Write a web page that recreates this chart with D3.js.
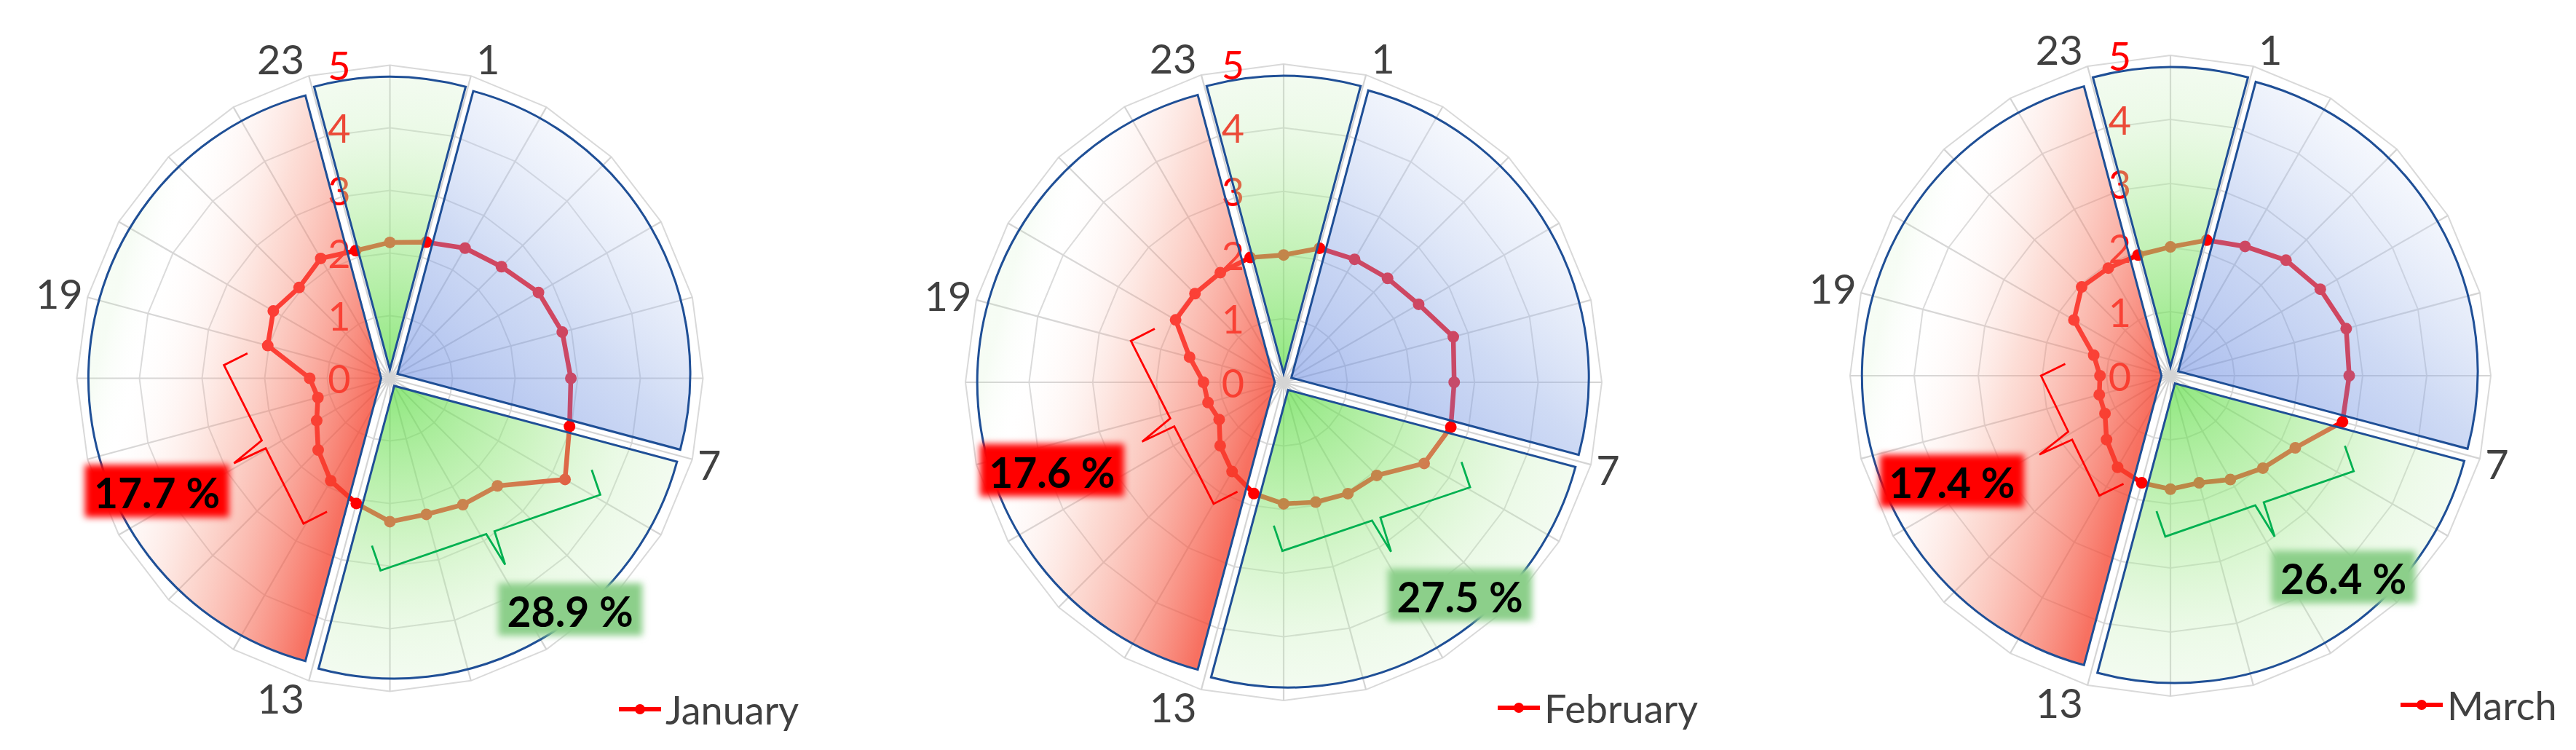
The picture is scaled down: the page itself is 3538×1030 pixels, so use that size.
<!DOCTYPE html>
<html>
<head>
<meta charset="utf-8">
<script src="https://cdn.jsdelivr.net/npm/d3@7"></script>
<style>
  html, body { margin: 0; padding: 0; background: #fff; }
  svg { display: block; font-family: Lato, "Open Sans", sans-serif; }
</style>
</head>
<body>
<svg id="chart" width="3538" height="1030"></svg>
<script>
// ---- data -------------------------------------------------------------
// 24 hourly spokes, spoke 0 at the top, clockwise
const hours = d3.range(24);
const hourLabels = ["", "1", "", "", "", "", "", "7", "", "", "", "", "", "13", "", "", "", "", "", "19", "", "", "", "23"];
const radialTicks = [0, 1, 2, 3, 4, 5];

const months = ["January", "February", "March"];
const janValues = [2.17, 2.25, 2.40, 2.52, 2.74, 2.85, 2.89, 2.97, 3.23, 2.43, 2.33, 2.25, 2.29, 2.07, 1.89, 1.62, 1.35, 1.19, 1.28, 2.02, 2.15, 2.05, 2.21, 2.11];
const febValues = [2.00, 2.18, 2.23, 2.31, 2.45, 2.76, 2.68, 2.72, 2.55, 2.07, 2.02, 1.95, 1.91, 1.81, 1.62, 1.41, 1.17, 1.23, 1.26, 1.53, 1.96, 1.97, 1.99, 2.03];
const marValues = [2.01, 2.19, 2.33, 2.55, 2.70, 2.84, 2.79, 2.78, 2.25, 2.04, 1.87, 1.73, 1.77, 1.73, 1.65, 1.41, 1.18, 1.15, 1.10, 1.24, 1.74, 1.96, 1.94, 1.95];
const monthValues = [janValues, febValues, marValues];

// periods of the day (exploded pie laid over the radar)
const periodStart = [23, 1, 7, 13];
const periodHours = [2, 6, 6, 10];
const periodFill = ["green", "blue", "green", "red"];

const redShares = ["17.7 %", "17.6 %", "17.4 %"];
const greenShares = ["28.9 %", "27.5 %", "26.4 %"];

// ---- layout (annotation anchors are in value units, x right / y down) --
const panels = [
  {cx: 535.5, cy: 519.5, R: 430, legendX: 850, legendY: 974},
  {cx: 1763, cy: 525, R: 437, legendX: 2057, legendY: 972},
  {cx: 2981, cy: 516, R: 440, legendX: 3297, legendY: 968}
];
const redBoxAt = [[-3.72, 1.80], [-3.64, 1.38], [-3.41, 1.64]];
const greenBoxAt = [[2.88, 3.69], [2.77, 3.34], [2.70, 3.14]];
const redBraceAt = [[[-2.65, -0.21], [-1.38, 2.32]], [[-2.40, -0.65], [-1.10, 1.91]], [[-2.02, 0.0], [-1.11, 1.87]]];
const greenBraceAt = [[[-0.15, 3.07], [3.36, 1.86]], [[-0.02, 2.65], [2.93, 1.65]], [[-0.08, 2.51], [2.86, 1.49]]];

const TAU = Math.PI * 2;
const svg = d3.select("#chart");
const defs = svg.append("defs");

defs.append("filter").attr("id", "soft")
  .attr("x", "-20%").attr("y", "-30%").attr("width", "140%").attr("height", "160%")
  .append("feGaussianBlur").attr("stdDeviation", 5);

function addStops(grad, stops) {
  stops.forEach(s => grad.append("stop").attr("offset", s[0]).attr("stop-color", s[1]).attr("stop-opacity", s[2]));
}

function addGradients(k, P) {
  // radial green, used by the night and the day sector
  addStops(defs.append("radialGradient").attr("id", "green" + k)
    .attr("gradientUnits", "userSpaceOnUse").attr("cx", 0).attr("cy", 0).attr("r", P),
    [[0, "rgb(90,220,65)", 0.68], [0.5, "rgb(165,235,145)", 0.55], [0.8, "rgb(190,238,175)", 0.32], [1, "rgb(205,240,195)", 0.25]]);

  addStops(defs.append("linearGradient").attr("id", "blue" + k)
    .attr("gradientUnits", "userSpaceOnUse")
    .attr("x1", 0.05 * P).attr("y1", 0.15 * P).attr("x2", 0.8 * P).attr("y2", -0.7 * P),
    [[0, "rgb(105,138,225)", 0.6], [0.5, "rgb(140,168,230)", 0.42], [1, "rgb(232,238,250)", 0.3]]);

  addStops(defs.append("linearGradient").attr("id", "red" + k)
    .attr("gradientUnits", "userSpaceOnUse")
    .attr("x1", -0.95 * P).attr("y1", -0.12 * P).attr("x2", -0.05 * P).attr("y2", 0.12 * P),
    [[0, "rgb(205,240,195)", 0.18], [0.14, "rgb(255,255,255)", 0.05], [0.5, "rgb(248,160,140)", 0.35], [1, "rgb(245,72,52)", 0.78]]);
}

function bracePath(c1, c2, r) {
  const p1 = [r(c1[0]), r(c1[1])], p2 = [r(c2[0]), r(c2[1])];
  const len = Math.hypot(p2[0] - p1[0], p2[1] - p1[1]);
  const u = [(p2[0] - p1[0]) / len, (p2[1] - p1[1]) / len];
  const mid = [(p1[0] + p2[0]) / 2, (p1[1] + p2[1]) / 2];
  let n = [-u[1], u[0]];
  if (n[0] * -mid[0] + n[1] * -mid[1] < 0) n = [-n[0], -n[1]]; // n points inward
  const hook = r(0.42), tip = r(0.56), gap = r(0.07);
  const pt = (p, a, b) => [p[0] + a * u[0] + b * n[0], p[1] + a * u[1] + b * n[1]];
  const pts = [pt(p1, 0, hook), p1, pt(mid, -gap, 0), pt(mid, gap * 0.8, -tip), pt(mid, gap, 0), p2, pt(p2, 0, hook)];
  return d3.line()(pts);
}

function drawPanel(k) {
  const L = panels[k];
  const values = monthValues[k];
  const R = L.R, P = R * 0.935, boom = R * 0.028;
  const r = d3.scaleLinear().domain([0, 5]).range([0, R]);
  const ang = d3.scaleLinear().domain([0, 24]).range([0, TAU]);
  addGradients(k, P);

  const g = svg.append("g").attr("transform", `translate(${L.cx},${L.cy})`);

  // radar grid
  const ring = v => d3.lineRadial().angle(h => ang(h)).radius(r(v)).curve(d3.curveLinearClosed)(hours);
  g.append("g").selectAll("path").data(radialTicks.slice(1)).join("path")
    .attr("d", ring).attr("fill", "none").attr("stroke", "#d9d9d9").attr("stroke-width", 2);
  g.append("g").selectAll("line").data(hours).join("line")
    .attr("x1", 0).attr("y1", 0)
    .attr("x2", h => r(5) * Math.sin(ang(h))).attr("y2", h => -r(5) * Math.cos(ang(h)))
    .attr("stroke", "#d4d4d4").attr("stroke-width", 2.2);

  // value axis labels
  g.append("g").selectAll("text").data(radialTicks).join("text")
    .attr("x", -54).attr("y", v => -r(v))
    .attr("text-anchor", "end").attr("dominant-baseline", "central")
    .attr("font-size", 54).attr("fill", "#ff0000").text(v => v);

  // data line + markers
  const line = d3.lineRadial().angle((d, i) => ang(i)).radius(d => r(d)).curve(d3.curveLinearClosed);
  g.append("path").datum(values).attr("d", line)
    .attr("fill", "none").attr("stroke", "#ff0000").attr("stroke-width", 6.5).attr("stroke-linejoin", "round");
  g.append("g").selectAll("circle").data(values).join("circle")
    .attr("cx", (d, i) => r(d) * Math.sin(ang(i))).attr("cy", (d, i) => -r(d) * Math.cos(ang(i)))
    .attr("r", 8).attr("fill", "#ff0000");

  // exploded pie of day periods
  const pie = d3.pie().sort(null).value(d => d)
    .startAngle(ang(periodStart[0]) - TAU).endAngle(ang(periodStart[0]));
  const arc = d3.arc().innerRadius(0).outerRadius(P);
  g.append("g").selectAll("path").data(pie(periodHours)).join("path")
    .attr("transform", d => {
      const m = (d.startAngle + d.endAngle) / 2;
      return `translate(${boom * Math.sin(m)},${-boom * Math.cos(m)})`;
    })
    .attr("d", arc)
    .attr("fill", (d, i) => `url(#${periodFill[i]}${k})`)
    .attr("stroke", "#1f4f96").attr("stroke-width", 3).attr("stroke-linejoin", "miter");

  // braces
  g.append("path").attr("d", bracePath(redBraceAt[k][0], redBraceAt[k][1], r))
    .attr("fill", "none").attr("stroke", "#ff0000").attr("stroke-width", 2.8);
  g.append("path").attr("d", bracePath(greenBraceAt[k][0], greenBraceAt[k][1], r))
    .attr("fill", "none").attr("stroke", "#00b050").attr("stroke-width", 2.8);

  // share labels on soft boxes
  const boxW = 198, boxH = 72;
  [[redBoxAt[k], redShares[k], "#ff0000"], [greenBoxAt[k], greenShares[k], "#8ccf8a"]].forEach(([at, txt, col]) => {
    const x = r(at[0]), y = r(at[1]);
    g.append("rect").attr("x", x - boxW / 2).attr("y", y - boxH / 2)
      .attr("width", boxW).attr("height", boxH).attr("fill", col).attr("filter", "url(#soft)");
    g.append("text").attr("x", x).attr("y", y + 2)
      .attr("text-anchor", "middle").attr("dominant-baseline", "central")
      .attr("font-size", 57).attr("font-weight", 700).attr("fill", "#000").text(txt);
  });

  // hour labels
  const fs = 56;
  g.append("g").selectAll("text").data(hours.filter(h => hourLabels[h] !== "")).join("text")
    .attr("x", h => {
      const s = Math.sin(ang(h)), w = hourLabels[h].length * 0.55 * fs;
      return R * s + (Math.abs(s) > 0.2 ? Math.sign(s) * (w / 2 + 8) : 0);
    })
    .attr("y", h => -R * Math.cos(ang(h)) - Math.cos(ang(h)) * 24)
    .attr("text-anchor", "middle").attr("dominant-baseline", "central")
    .attr("font-size", fs).attr("fill", "#404040").text(h => hourLabels[h]);

  // legend
  const lg = svg.append("g").attr("transform", `translate(${L.legendX},${L.legendY})`);
  lg.append("line").attr("x1", 0).attr("x2", 58).attr("y1", 0).attr("y2", 0)
    .attr("stroke", "#ff0000").attr("stroke-width", 6);
  lg.append("circle").attr("cx", 29).attr("cy", 0).attr("r", 7).attr("fill", "#ff0000");
  lg.append("text").attr("x", 64).attr("y", 0).attr("dominant-baseline", "central")
    .attr("font-size", 54).attr("fill", "#404040").text(months[k]);
}

months.forEach((m, k) => drawPanel(k));
</script>
</body>
</html>
